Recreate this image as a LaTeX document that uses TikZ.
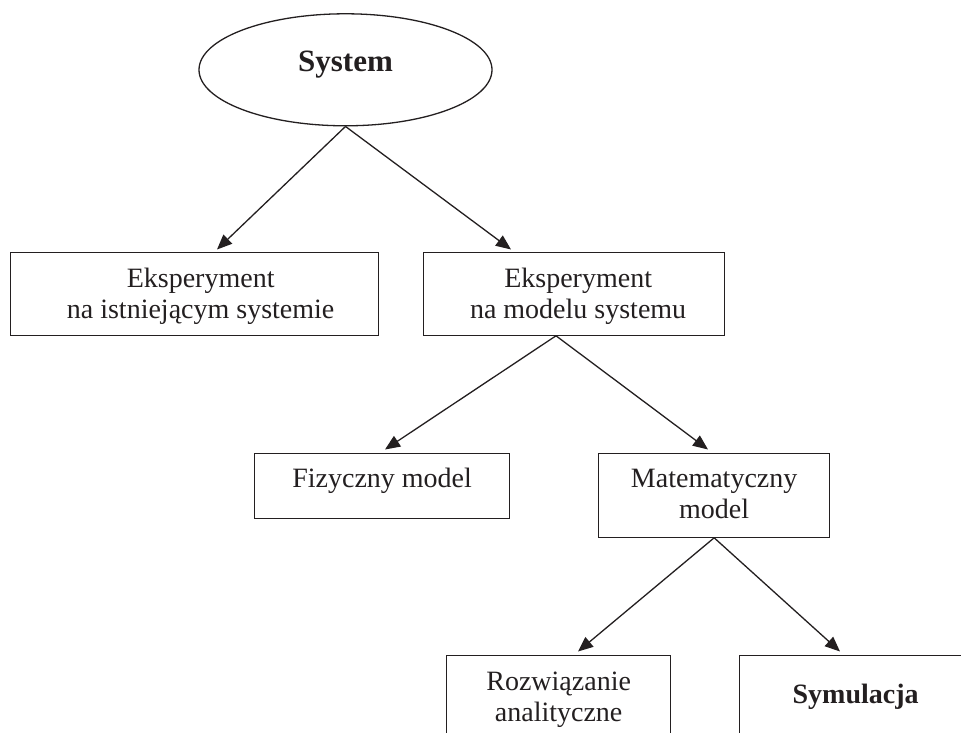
\documentclass[tikz,border=0pt]{standalone}
\usepackage{fontspec}
\setmainfont{Liberation Serif}
\usetikzlibrary{arrows.meta,shapes.geometric,calc}
\definecolor{ink}{RGB}{35,31,32}
\newcommand{\bxt}[4]{\parbox[c][#2][t]{#1}{\centering\rule{0pt}{#3}#4}}
\begin{document}
\begin{tikzpicture}[x=1pt,y=-1pt,
  font=\fontsize{28}{31}\selectfont,
  box/.style={draw=ink, line width=1.3pt, rectangle, inner sep=0pt, anchor=north west, text=ink},
  arr/.style={draw=ink, line width=1.3pt, -{Triangle[length=15pt,width=12.5pt]}}]
\useasboundingbox (0,0) rectangle (961,733);
\clip (0,0) rectangle (961,733);
\node[ellipse, draw=ink, line width=1.3pt, minimum width=293pt, minimum height=112pt,
      inner sep=0pt, text height=20pt, text depth=16pt, text=ink,
      font=\fontsize{31}{34}\selectfont\bfseries] (sys) at (345.5,69.8) {System};
\node[box] (b1) at (10,251.5) {\bxt{368pt}{83pt}{35pt}{\hspace*{12pt}Eksperyment\\\hspace*{12pt}na istniejącym systemie}};
\node[box] (b2) at (423,251.5) {\bxt{301pt}{83pt}{35pt}{\hspace*{8pt}Eksperyment\\\hspace*{8pt}na modelu systemu}};
\node[box] (b3) at (254,452.5) {\bxt{255pt}{65pt}{34pt}{Fizyczny model}};
\node[box] (b4) at (598,452.5) {\bxt{231pt}{84pt}{34pt}{Matematyczny\\model}};
\node[box] (b5) at (446,654.5) {\bxt{224pt}{100pt}{35pt}{Rozwiązanie\\analityczne}};
\node[box] (b6) at (739,654.5) {\bxt{232pt}{100pt}{48pt}{\bfseries Symulacja}};
\draw[arr] (sys.south) -- ($(b1.north west)+(207,-2)$);
\draw[arr] (sys.south) -- ($(b2.north west)+(88,-2)$);
\draw[arr] ($(b2.south west)+(133,0)$) -- ($(b3.north west)+(131,-3)$);
\draw[arr] ($(b2.south west)+(133,0)$) -- ($(b4.north west)+(110,-3)$);
\draw[arr] (b4.south) -- ($(b5.north west)+(132,-3)$);
\draw[arr] (b4.south) -- ($(b6.north west)+(101,-3)$);
\end{tikzpicture}
\end{document}
